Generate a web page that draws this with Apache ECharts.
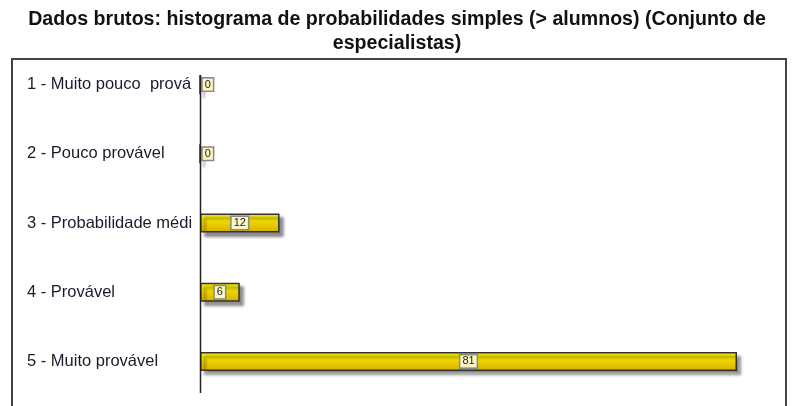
<!DOCTYPE html>
<html>
<head>
<meta charset="utf-8">
<script src="https://cdn.jsdelivr.net/npm/echarts@6/dist/echarts.min.js"></script>
<style>
  html, body { margin: 0; padding: 0; background: #fff; }
  #chart { width: 794px; height: 406px; }
</style>
</head>
<body>
<div id="chart"></div>
<script>
// Response categories (as shown on the axis) and their counts
const categories = [
  '1 - Muito pouco  prová',
  '2 - Pouco provável',
  '3 - Probabilidade médi',
  '4 - Provável',
  '5 - Muito provável'
];
const counts = [0, 0, 12, 6, 81];

const titleText = 'Dados brutos: histograma de probabilidades simples (> alumnos) (Conjunto de\nespecialistas)';

const chart = echarts.init(document.getElementById('chart'), null, { renderer: 'canvas' });

const barFill = new echarts.graphic.LinearGradient(0, 0, 0, 1, [
  { offset: 0, color: '#fff500' },
  { offset: 1, color: '#d8ae00' }
]);

const valueLabel = {
  show: true,
  fontFamily: 'Liberation Sans',
  fontSize: 11,
  color: '#222',
  backgroundColor: '#fbf6c8',
  borderColor: '#8a8a7a',
  borderWidth: 1.5,
  padding: [1, 2, 0, 2],
  lineHeight: 11
};

chart.setOption({
  animation: false,
  backgroundColor: '#fff',
  title: {
    text: titleText,
    left: 'center',
    top: 3,
    padding: [5, 0, 5, 12],
    textStyle: {
      fontFamily: 'Liberation Sans',
      fontWeight: 'bold',
      fontSize: 19.6,
      lineHeight: 24,
      color: '#111'
    }
  },
  graphic: [
    {
      type: 'rect',
      shape: { x: 12, y: 59, width: 774, height: 400 },
      style: { fill: 'none', stroke: '#444', lineWidth: 2 },
      z: 0
    },
    {
      type: 'line',
      shape: { x1: 200.5, y1: 75, x2: 200.5, y2: 393 },
      style: { stroke: '#222', lineWidth: 1.5 },
      z: 10
    }
  ],
  grid: {
    left: 200,
    right: 57,
    top: 50,
    height: 346,
    containLabel: false
  },
  xAxis: {
    type: 'value',
    min: 0,
    max: 81,
    show: false
  },
  yAxis: {
    type: 'category',
    inverse: true,
    data: categories,
    axisLine: { show: false },
    axisTick: { show: false },
    splitLine: { show: false },
    axisLabel: {
      align: 'left',
      margin: 173,
      fontFamily: 'Liberation Sans',
      fontSize: 16.5,
      color: '#1a1a2e'
    }
  },
  series: [{
    type: 'bar',
    barWidth: 19,
    data: counts.map(v => ({
      value: v,
      label: v === 0
        ? Object.assign({}, valueLabel, { position: 'right', distance: 2 })
        : Object.assign({}, valueLabel, { position: 'inside' })
    })),
    itemStyle: {
      color: barFill,
      borderColor: '#333',
      borderWidth: 1.5,
      shadowColor: 'rgba(0,0,0,0.45)',
      shadowBlur: 3,
      shadowOffsetX: 4,
      shadowOffsetY: 4
    }
  }]
});
</script>
</body>
</html>
